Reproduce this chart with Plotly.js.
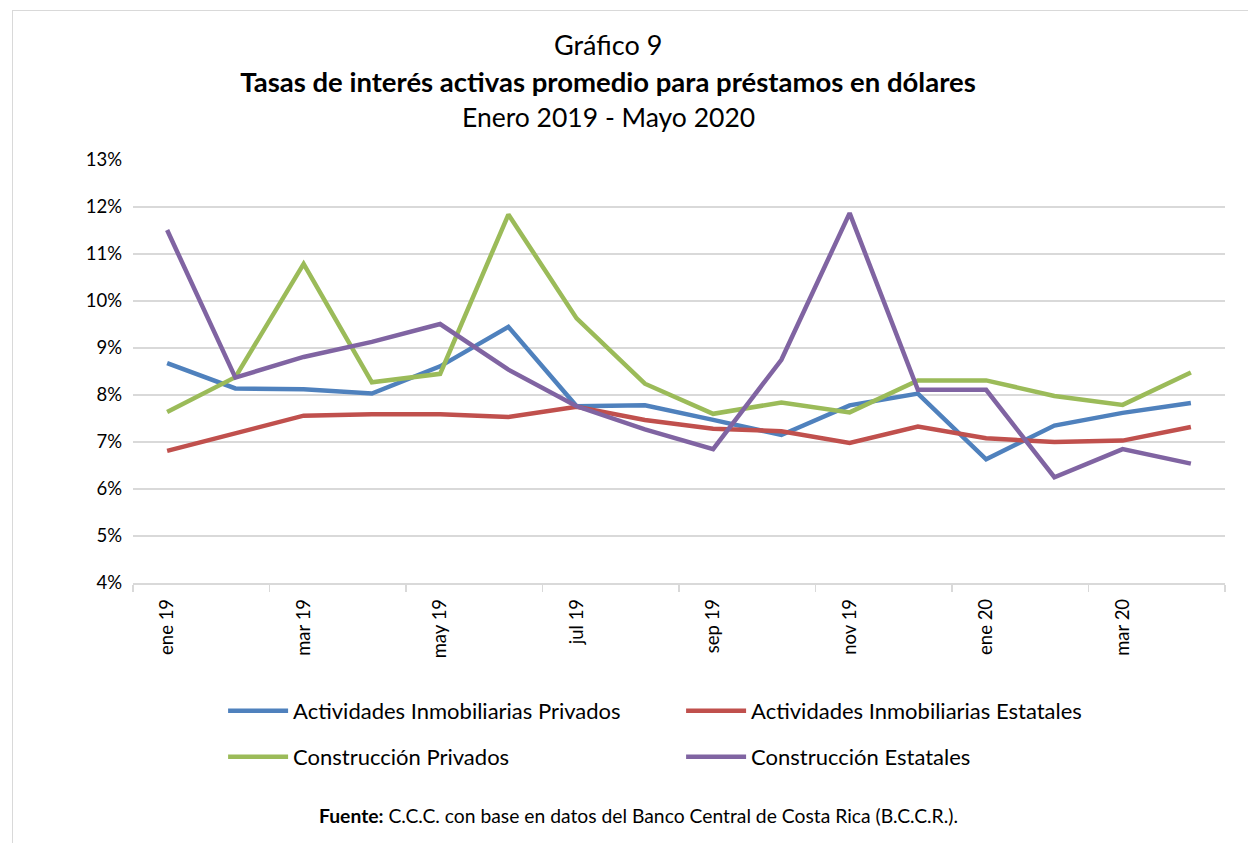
<!DOCTYPE html>
<html>
<head>
<meta charset="utf-8">
<script src="https://cdn.plot.ly/plotly-3.0.1.min.js"></script>
<style>
  html, body { margin: 0; padding: 0; background: #fff; }
  #frame { position: absolute; left: 12px; top: 10px; width: 1300px; height: 900px; border: 1.5px solid #d9d9d9; box-sizing: border-box; }
  #chart { position: absolute; left: 0; top: 0; width: 1248px; height: 843px; }
</style>
</head>
<body>
<div id="frame"></div>
<div id="chart"></div>
<script>
// Months (Jan 2019 - Apr 2020 as plotted)
const months = ['ene 19','feb 19','mar 19','abr 19','may 19','jun 19','jul 19','ago 19','sep 19','oct 19','nov 19','dic 19','ene 20','feb 20','mar 20','abr 20'];

const seriesNames = ['Actividades Inmobiliarias Privados','Actividades Inmobiliarias Estatales','Construcción Privados','Construcción Estatales'];

const inmobPrivados  = [8.68, 8.14, 8.12, 8.03, 8.61, 9.45, 7.76, 7.78, 7.47, 7.15, 7.78, 8.03, 6.63, 7.35, 7.62, 7.83];
const inmobEstatales = [6.81, 7.18, 7.56, 7.59, 7.59, 7.53, 7.75, 7.47, 7.28, 7.23, 6.98, 7.33, 7.08, 7.00, 7.03, 7.32];
const constPrivados  = [7.64, 8.38, 10.79, 8.27, 8.45, 11.84, 9.63, 8.24, 7.60, 7.84, 7.63, 8.31, 8.31, 7.98, 7.79, 8.48];
const constEstatales = [11.51, 8.37, 8.81, 9.13, 9.51, 8.54, 7.76, 7.27, 6.85, 8.75, 11.87, 8.11, 8.11, 6.25, 6.85, 6.54];

const yTicks = [4,5,6,7,8,9,10,11,12,13];

const colors = ['#4f81bd','#c0504d','#9bbb59','#8064a2'];
const allSeries = [inmobPrivados, inmobEstatales, constPrivados, constEstatales];
const legendRow = ['legend','legend','legend2','legend2'];

const idx = months.map((m, i) => i);
const traces = allSeries.map((vals, k) => ({
  x: idx,
  y: vals,
  type: 'scatter',
  mode: 'lines',
  name: seriesNames[k],
  legend: legendRow[k],
  line: { color: colors[k], width: 4.5 },
  hoverinfo: 'skip'
}));

const labelIdx = idx.filter(i => i % 2 === 0);
const boundaryTicks = [];
for (let i = -0.5; i <= months.length - 0.5; i += 2) boundaryTicks.push(i);

const FONT = 'Lato, "Open Sans", sans-serif';

function legendAt(yPix) {
  return {
    orientation: 'h',
    x: 0.0825, xanchor: 'left',
    y: (583 - yPix) / 423, yanchor: 'middle',
    font: { family: FONT, size: 22, color: '#000' },
    itemwidth: 60,
    entrywidth: 383,
    entrywidthmode: 'pixels',
    bgcolor: 'rgba(0,0,0,0)'
  };
}

const layout = {
  width: 1248,
  height: 843,
  paper_bgcolor: 'rgba(0,0,0,0)',
  plot_bgcolor: 'rgba(0,0,0,0)',
  margin: { l: 133, r: 23, t: 160, b: 260 },
  font: { family: FONT, color: '#000' },
  title: {
    text: '<b>Tasas de interés activas promedio para préstamos en dólares</b>',
    font: { family: FONT, size: 27.5, color: '#000' },
    x: 0.435, xref: 'paper', xanchor: 'center',
    y: 1 - 82/843, yref: 'container', yanchor: 'middle'
  },
  showlegend: true,
  legend: legendAt(711),
  legend2: legendAt(757),
  xaxis: {
    range: [-0.5, months.length - 0.5],
    tickmode: 'array',
    tickvals: labelIdx,
    ticktext: labelIdx.map(i => months[i]),
    tickangle: -90,
    ticks: '',
    ticklabelstandoff: 7,
    tickfont: { family: FONT, size: 18.5, color: '#000' },
    showgrid: false,
    zeroline: false,
    showline: true,
    linecolor: '#d9d9d9',
    linewidth: 1.5,
    minor: {
      tickmode: 'array',
      tickvals: boundaryTicks,
      ticks: 'outside',
      ticklen: 7,
      tickwidth: 1.5,
      tickcolor: '#d9d9d9',
      showgrid: false
    },
    fixedrange: true
  },
  yaxis: {
    range: [4, 13],
    tickmode: 'array',
    tickvals: yTicks,
    ticktext: yTicks.map(v => v + '%'),
    ticks: '',
    ticklabelstandoff: 10,
    tickfont: { family: FONT, size: 18.5, color: '#000' },
    showgrid: true,
    gridcolor: '#d9d9d9',
    gridwidth: 1.5,
    zeroline: false,
    showline: false,
    fixedrange: true
  },
  annotations: [
    { text: 'Gráfico 9', xref: 'paper', yref: 'paper', x: 0.435, y: (583-45)/423, xanchor: 'center', yanchor: 'middle', showarrow: false, font: { family: FONT, size: 27, color: '#000' } },
    { text: 'Enero 2019 - Mayo 2020', xref: 'paper', yref: 'paper', x: 0.435, y: (583-117)/423, xanchor: 'center', yanchor: 'middle', showarrow: false, font: { family: FONT, size: 26.5, color: '#000' } },
    { text: '<b>Fuente:</b> C.C.C. con base en datos del Banco Central de Costa Rica (B.C.C.R.).', xref: 'paper', yref: 'paper', x: 0.4625, y: (583-815)/423, xanchor: 'center', yanchor: 'middle', showarrow: false, font: { family: FONT, size: 19.3, color: '#000' } }
  ]
};

Plotly.newPlot('chart', traces, layout, { displayModeBar: false, staticPlot: true });
</script>
</body>
</html>
